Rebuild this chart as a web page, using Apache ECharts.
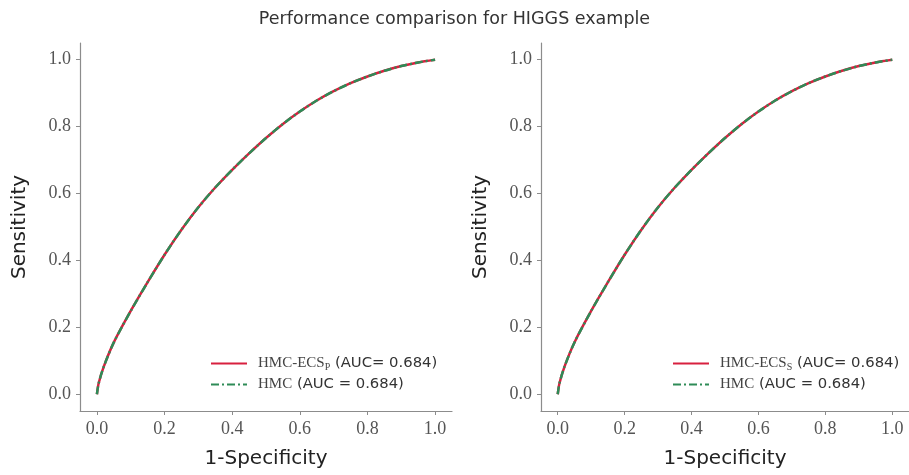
<!DOCTYPE html>
<html>
<head>
<meta charset="utf-8">
<script src="https://cdn.jsdelivr.net/npm/echarts@6/dist/echarts.min.js"></script>
<style>
  html, body { margin: 0; padding: 0; background: #fff; }
  #chart { width: 909px; height: 475px; }
</style>
</head>
<body>
<div id="chart"></div>
<script>
// ROC curves (false positive rate vs. true positive rate)
const fpr = [0, 0.005, 0.02, 0.05, 0.1, 0.15, 0.2, 0.25, 0.3, 0.35, 0.4, 0.45, 0.5, 0.55, 0.6, 0.65, 0.7, 0.75, 0.8, 0.85, 0.9, 0.95, 1.0];
const tprEcsP = [0, 0.032, 0.082, 0.155, 0.249, 0.335, 0.417, 0.492, 0.559, 0.618, 0.671, 0.72, 0.766, 0.808, 0.845, 0.878, 0.906, 0.93, 0.95, 0.967, 0.981, 0.992, 1.0];
const tprHmcLeft = [0, 0.032, 0.082, 0.155, 0.249, 0.335, 0.417, 0.492, 0.559, 0.618, 0.671, 0.72, 0.766, 0.808, 0.845, 0.878, 0.906, 0.93, 0.95, 0.967, 0.981, 0.992, 1.0];
const tprEcsS = [0, 0.032, 0.082, 0.155, 0.249, 0.335, 0.417, 0.492, 0.559, 0.618, 0.671, 0.72, 0.766, 0.808, 0.845, 0.878, 0.906, 0.93, 0.95, 0.967, 0.981, 0.992, 1.0];
const tprHmcRight = [0, 0.032, 0.082, 0.155, 0.249, 0.335, 0.417, 0.492, 0.559, 0.618, 0.671, 0.72, 0.766, 0.808, 0.845, 0.878, 0.906, 0.93, 0.95, 0.967, 0.981, 0.992, 1.0];
const tickValues = [0, 0.2, 0.4, 0.6, 0.8, 1.0];
const aucEcsP = 0.684, aucHmcLeft = 0.684, aucEcsS = 0.684, aucHmcRight = 0.684;

const RED = '#d8203f';
const GREEN = '#2e8b57';
const serif = '"Liberation Serif", "DejaVu Serif", serif';
const sans = '"DejaVu Sans", "Noto Sans", sans-serif';
const AXIS_GREY = '#8c8c8c';

const pairs = (xs, ys) => xs.map((x, i) => [x, ys[i]]);

function axisCommon(gridIndex, name, nameGap) {
  return {
    type: 'value', gridIndex, min: -0.05, max: 1.05,
    name, nameLocation: 'middle', nameGap,
    nameTextStyle: { fontFamily: sans, fontSize: 20, color: '#222' },
    axisLine: { show: true, onZero: false, lineStyle: { color: AXIS_GREY, width: 1.2 } },
    axisTick: { show: true, customValues: tickValues, length: 4, lineStyle: { color: AXIS_GREY } },
    axisLabel: { customValues: tickValues, formatter: v => v.toFixed(1), fontFamily: serif, fontSize: 18, color: '#555', margin: 9 },
    splitLine: { show: false }
  };
}

function curve(name, xs, ys, idx, color, dashed) {
  return {
    name, type: 'line', xAxisIndex: idx, yAxisIndex: idx,
    data: pairs(xs, ys), showSymbol: false, symbol: 'none',
    smooth: 0.25,
    lineStyle: { color, width: 2.5, type: dashed ? [8, 3, 2, 3] : 'solid' },
    itemStyle: { color }
  };
}

const richLegend = {
  m: { fontFamily: serif, fontSize: 15, color: '#444' },
  sub: { fontFamily: serif, fontSize: 10, color: '#444', verticalAlign: 'bottom', padding: [7, 0, 0, 0] },
  s: { fontFamily: sans, fontSize: 14.8, color: '#333' }
};

const labels = {
  ecsP: '{m|HMC-ECS}{sub|P}{s| (AUC= ' + aucEcsP.toFixed(3) + ')}',
  hmcL: '{m|HMC}{s| (AUC = ' + aucHmcLeft.toFixed(3) + ')}',
  ecsS: '{m|HMC-ECS}{sub|S}{s| (AUC= ' + aucEcsS.toFixed(3) + ')}',
  hmcR: '{m|HMC}{s| (AUC = ' + aucHmcRight.toFixed(3) + ')}'
};

function legendAt(left, top, data) {
  return {
    left, top, orient: 'vertical', itemGap: 5, itemWidth: 36, itemHeight: 15,
    data,
    itemStyle: { opacity: 0 },
    formatter: n => labels[n],
    textStyle: { rich: richLegend, padding: [0, 0, 0, 6] }
  };
}

const chart = echarts.init(document.getElementById('chart'), null, { renderer: 'canvas' });
chart.setOption({
  animation: false,
  backgroundColor: '#fff',
  title: {
    text: 'Performance comparison for HIGGS example', left: 'center', top: 5,
    textStyle: { fontFamily: sans, fontSize: 17.5, fontWeight: 'normal', color: '#333' }
  },
  grid: [
    { left: 80, width: 372, top: 43, height: 368 },
    { left: 541, width: 372, top: 43, height: 368 }
  ],
  legend: [
    legendAt(205, 351, ['ecsP', 'hmcL']),
    legendAt(667, 351, ['ecsS', 'hmcR'])
  ],
  xAxis: [axisCommon(0, '1-Specificity', 38), axisCommon(1, '1-Specificity', 38)],
  yAxis: [axisCommon(0, 'Sensitivity', 50), axisCommon(1, 'Sensitivity', 50)],
  series: [
    curve('ecsP', fpr, tprEcsP, 0, RED, false),
    curve('hmcL', fpr, tprHmcLeft, 0, GREEN, true),
    curve('ecsS', fpr, tprEcsS, 1, RED, false),
    curve('hmcR', fpr, tprHmcRight, 1, GREEN, true)
  ]
});
</script>
</body>
</html>
